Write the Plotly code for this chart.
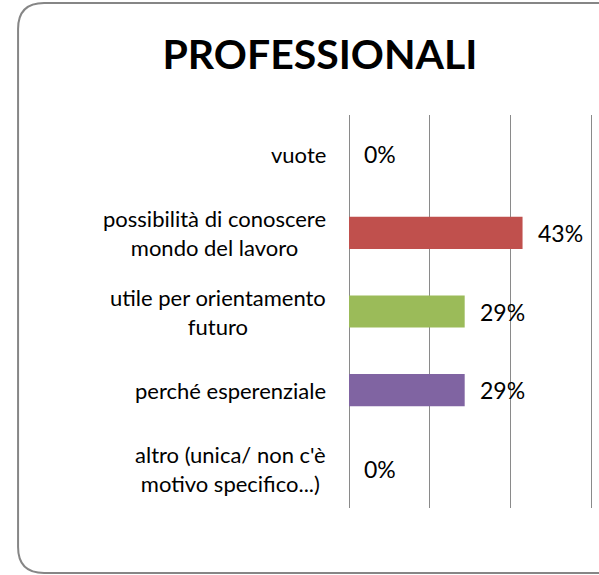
import plotly.graph_objects as go

categories = [
    "vuote",
    "possibilità di conoscere<br>mondo del lavoro",
    "utile per orientamento<br>futuro",
    "perché esperenziale",
    "altro (unica/ non c'è<br>motivo specifico...)",
]
shares = [0.0, 0.4286, 0.2857, 0.2857, 0.0]
value_labels = ["0%", "43%", "29%", "29%", "0%"]
bar_colors = ["#4F81BD", "#C0504D", "#9BBB59", "#8064A2", "#F79646"]
x_ticks = [0.0, 0.2, 0.4, 0.6]
x_max = 0.61

W, H = 599, 575
L, T, B = 349, 115, 67
plot_w = (592 - L) * x_max / 0.6
R = W - L - plot_w
plot_h = H - T - B
GRID = "#8a8a8a"
FONT = "Lato"


def px(x):
    return (x - L) / plot_w


def py(y):
    return (H - B - y) / plot_h


def rounded_frame(left, top, right, bottom, r):
    return (
        f"M {px(left + r)},{py(top)} L {px(right)},{py(top)} "
        f"L {px(right)},{py(bottom)} L {px(left + r)},{py(bottom)} "
        f"Q {px(left)},{py(bottom)} {px(left)},{py(bottom - r)} "
        f"L {px(left)},{py(top + r)} "
        f"Q {px(left)},{py(top)} {px(left + r)},{py(top)}"
    )


fig = go.Figure(
    go.Bar(
        x=shares,
        y=categories,
        orientation="h",
        marker=dict(color=bar_colors, line=dict(width=0)),
        width=0.41,
        hoverinfo="skip",
    )
)

for cat, val, lab in zip(categories, shares, value_labels):
    fig.add_annotation(
        x=val, y=cat, xref="x", yref="y", text=lab, showarrow=False,
        xanchor="left", xshift=13, font=dict(family=FONT, size=23, color="#000000"),
    )
    fig.add_annotation(
        x=px(328), y=cat, xref="paper", yref="y", text=cat, showarrow=False,
        xanchor="right", align="center",
        font=dict(family=FONT, size=22, color="#000000"),
    )

fig.add_shape(
    type="path", xref="paper", yref="paper",
    path=rounded_frame(18, 3, 660, 573, 26),
    line=dict(color="#868686", width=2),
)

fig.update_layout(
    width=W,
    height=H,
    margin=dict(l=L, r=R, t=T, b=B),
    paper_bgcolor="white",
    plot_bgcolor="white",
    showlegend=False,
    title=dict(
        text="<b>PROFESSIONALI</b>",
        x=320 / W, xanchor="center", y=1 - 55 / H, yanchor="middle",
        font=dict(family=FONT, size=41, color="#000000"),
    ),
    xaxis=dict(
        range=[0, x_max],
        tickvals=x_ticks,
        showticklabels=False,
        showgrid=True,
        gridcolor=GRID,
        gridwidth=1,
        zeroline=True,
        zerolinecolor=GRID,
        zerolinewidth=1,
        ticks="",
        fixedrange=True,
    ),
    yaxis=dict(
        autorange="reversed",
        showticklabels=False,
        showgrid=False,
        zeroline=False,
        ticks="",
        fixedrange=True,
    ),
)

# drop the browser's default body margin so the figure sits at the window origin
fig.write_html(
    "out.html",
    config={"displayModeBar": False},
    post_script="document.body.style.margin='0';document.body.style.overflow='hidden';",
)
